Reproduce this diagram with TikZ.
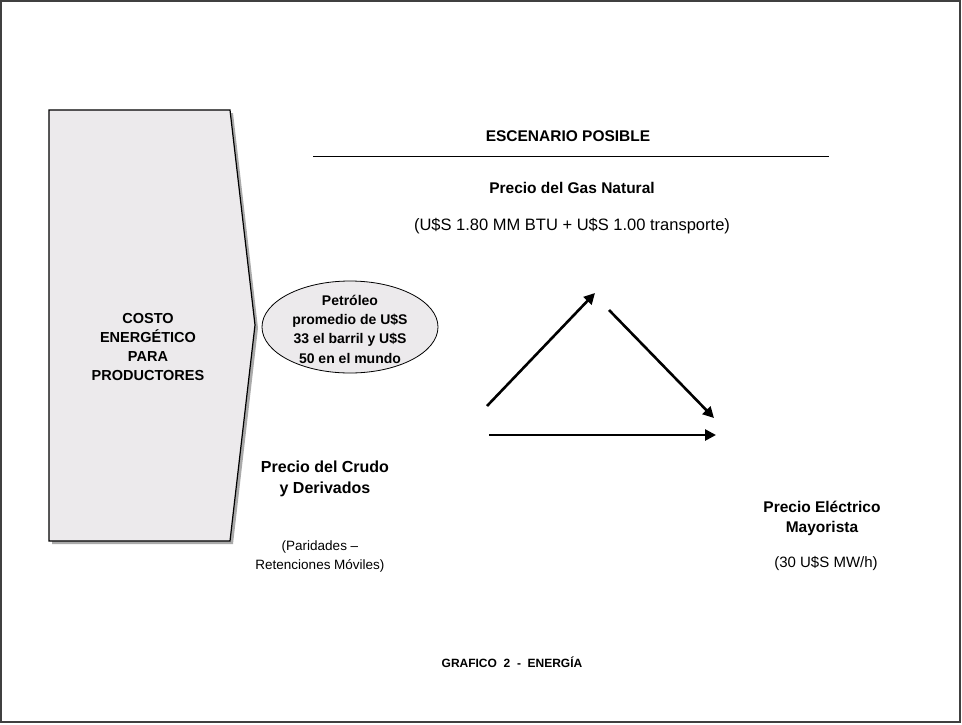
\documentclass[tikz,border=0pt]{standalone}
\usepackage{fontspec}
\setmainfont{Liberation Sans}
\usetikzlibrary{arrows.meta,shapes.geometric}
\definecolor{boxfill}{RGB}{236,234,236}
\definecolor{shadowgray}{RGB}{170,170,170}
\tikzset{
  bt/.style={font=\bfseries\fontsize{15.5}{20}\selectfont, align=center, inner sep=0pt},
  nt/.style={font=\fontsize{16}{19.5}\selectfont, align=center, inner sep=0pt},
  arr/.style={line width=2.6pt, -{Triangle[length=11pt,width=11pt]}},
}
\begin{document}
\begin{tikzpicture}[x=1pt,y=-1pt]
\useasboundingbox (0,0) rectangle (962,724);
\draw[line width=1.3pt, draw=black!75] (1,1) rectangle (960,722);
% pentagon
\fill[shadowgray] (52,113) -- (233,113) -- (258,328) -- (233,544) -- (52,544) -- cycle;
\draw[fill=boxfill, line width=1.2pt] (49,110) -- (230,110) -- (255,325) -- (230,541) -- (49,541) -- cycle;
\node[bt, font=\bfseries\fontsize{14.5}{19}\selectfont] (costo) at (148,347) {COSTO\\ENERGÉTICO\\PARA\\PRODUCTORES};
% header
\node[bt] (esc) at (568,136) {ESCENARIO POSIBLE};
\coordinate (l1) at (313,156);
\coordinate (l2) at (829,156);
\draw[line width=0.8pt] (l1) -- (l2);
\node[bt] (gas) at (572,188) {Precio del Gas Natural};
\node[nt, font=\fontsize{16.5}{20}\selectfont] (gasp) at (572,226) {(U\$S 1.80 MM BTU + U\$S 1.00 transporte)};
% ellipse
\node[draw, ellipse, fill=boxfill, line width=0.8pt, minimum width=176pt, minimum height=92pt, inner sep=0pt] (ell) at (350,327) {};
\node[bt, font=\bfseries\fontsize{14}{19.3}\selectfont] (pet) at (350,329) {Petróleo\\promedio de U\$S\\33 el barril y U\$S\\50 en el mundo};
% arrows
\coordinate (a1s) at (487,406);
\coordinate (a1e) at (595,293);
\coordinate (a2s) at (609,310);
\coordinate (a2e) at (714,418);
\coordinate (a3s) at (489,435);
\coordinate (a3e) at (716,435);
\draw[arr] (a1s) -- (a1e);
\draw[arr] (a2s) -- (a2e);
\draw[arr] (a3s) -- (a3e);
% bottom texts
\node[bt, font=\bfseries\fontsize{16}{20.5}\selectfont] (crudo) at (325,479) {Precio del Crudo\\y Derivados};
\node[nt, font=\fontsize{13.5}{19}\selectfont] (parid) at (320,556) {(Paridades –\\Retenciones Móviles)};
\node[bt] (elec) at (822,518) {Precio Eléctrico\\Mayorista};
\node[nt, font=\fontsize{15}{19}\selectfont] (mw) at (826,563) {(30 U\$S MW/h)};
\node[bt, font=\bfseries\fontsize{12}{14}\selectfont] (graf) at (512,662) {GRAFICO \ 2 \ - \ ENERGÍA};
\end{tikzpicture}
\end{document}
